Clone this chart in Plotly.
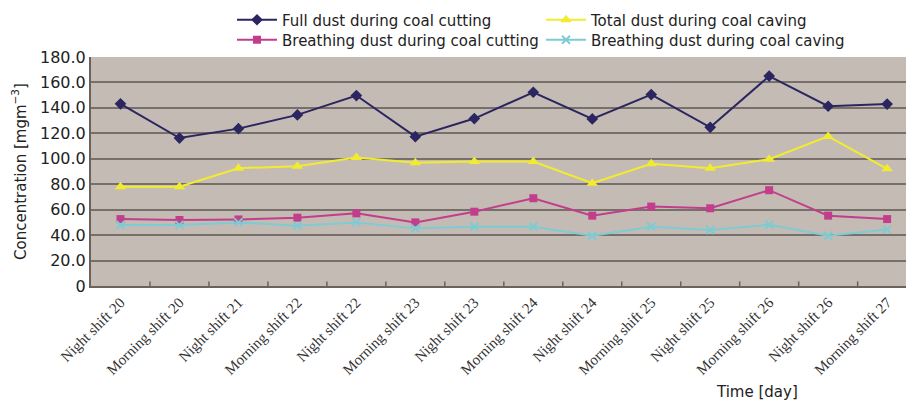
import plotly.graph_objects as go

categories = ["Night shift 20", "Morning shift 20", "Night shift 21", "Morning shift 22",
              "Night shift 22", "Morning shift 23", "Night shift 23", "Morning shift 24",
              "Night shift 24", "Morning shift 25", "Night shift 25", "Morning shift 26",
              "Night shift 26", "Morning shift 27"]

full_cutting = [143.2, 116.3, 123.7, 134.5, 149.7, 117.4, 131.6, 152.3, 131.3, 150.5, 124.7, 165.0, 141.3, 143.0]
total_caving = [78.1, 78.1, 92.6, 94.2, 101.0, 96.8, 97.9, 97.9, 80.8, 96.0, 92.6, 99.7, 117.6, 92.1]
breath_cutting = [52.6, 51.9, 52.3, 53.7, 57.1, 50.0, 58.4, 69.0, 55.3, 62.4, 61.1, 75.3, 55.3, 52.6]
breath_caving = [47.9, 47.9, 50.0, 47.4, 50.0, 45.3, 46.6, 46.6, 39.5, 46.6, 44.0, 48.2, 39.5, 44.5]

y_tickvals = [0, 20, 40, 60, 80, 100, 120, 140, 160, 180]
y_ticktext = ["0", "20.0", "40.0", "60.0", "80.0", "100.0", "120.0", "140.0", "160.0", "180.0"]

x_idx = list(range(len(categories)))

W, H = 906, 400
ML, MR, MT, MB = 91, 0, 57, 114
PW, PH = W - ML - MR, H - MT - MB
SANS = "DejaVu Sans, Verdana, sans-serif"


def px_x(p):
    return (p - ML) / PW


def px_y(p):
    return (H - MB - p) / PH


fig = go.Figure()
series = [
    ("Full dust during coal cutting", full_cutting, "#2B2660", "diamond", 9, "legend"),
    ("Total dust during coal caving", total_caving, "#F2EC2E", "triangle-up", 10, "legend"),
    ("Breathing dust during coal cutting", breath_cutting, "#C23E8C", "square", 8, "legend2"),
    ("Breathing dust during coal caving", breath_caving, "#7DCBD3", "x-thin", 8, "legend2"),
]
for name, vals, col, sym, sz, lg in series:
    fig.add_trace(go.Scatter(
        x=x_idx, y=vals, name=name, mode="lines+markers", legend=lg,
        line=dict(color=col, width=2),
        marker=dict(symbol=sym, size=sz, color=col,
                    line=dict(color=col, width=2 if sym == "x-thin" else 0)),
    ))

leg_common = dict(
    orientation="h", xanchor="left", yanchor="middle",
    entrywidth=254, entrywidthmode="pixels",
    font=dict(family=SANS, size=15, color="#222"), itemwidth=40,
    bgcolor="rgba(0,0,0,0)", borderwidth=0,
)

fig.update_layout(
    width=W, height=H,
    margin=dict(l=ML, r=MR, t=MT, b=MB, autoexpand=False),
    paper_bgcolor="white",
    plot_bgcolor="#C4BCB4",
    font=dict(family=SANS, size=15, color="#222"),
    showlegend=True,
    legend=dict(x=px_x(232), y=px_y(20), **leg_common),
    legend2=dict(x=px_x(232), y=px_y(40), **leg_common),
    xaxis=dict(
        tickmode="array", tickvals=x_idx, ticktext=categories,
        range=[-0.5, 13.32], tickangle=-45, automargin=False,
        tickfont=dict(family="Liberation Serif, Times New Roman, serif", size=15, color="#333"),
        showgrid=False, zeroline=False,
        showline=True, linecolor="#6A625C", linewidth=2,
        ticks="",
    ),
    yaxis=dict(
        range=[0, 180], tickvals=y_tickvals, ticktext=y_ticktext, automargin=False,
        showgrid=True, gridcolor="#77706A", gridwidth=2,
        zeroline=False, showline=True, linecolor="#6A625C", linewidth=2,
        tickfont=dict(family=SANS, size=16, color="#222"),
        title=dict(text="Concentration [mgm<sup>−3</sup>]",
                   font=dict(family=SANS, size=15, color="#222"), standoff=10),
    ),
)

fig.add_annotation(text="Time [day]", xref="paper", yref="paper",
                   x=px_x(757), y=px_y(392),
                   showarrow=False, font=dict(family=SANS, size=15, color="#222"),
                   xanchor="center", yanchor="middle")

# inward tick marks between categories
for k in range(13):
    fig.add_shape(type="line", xref="x", yref="paper", x0=k + 0.5, x1=k + 0.5, y0=0, y1=0.02,
                  line=dict(color="#6A625C", width=1.5))

fig.write_html("out.html")
